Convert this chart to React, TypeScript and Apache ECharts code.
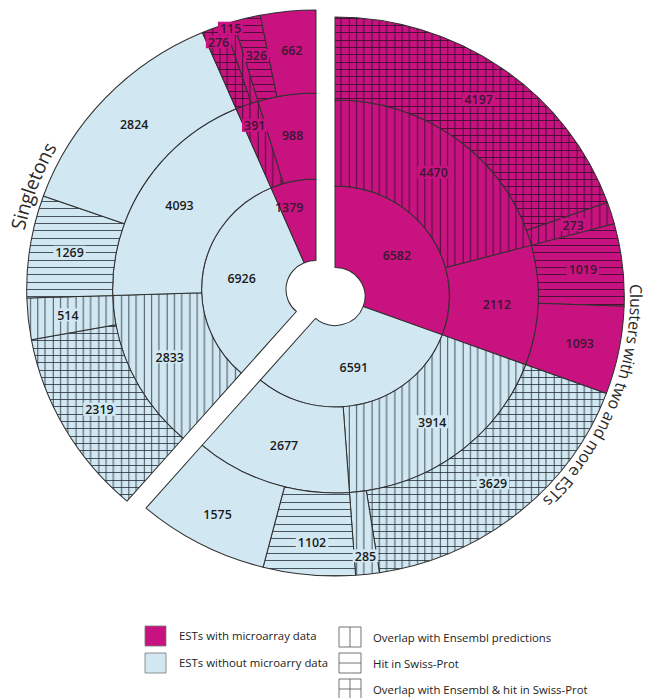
import React, { useEffect, useRef } from 'react';
import * as echarts from 'echarts';

// ---------- data ----------
const singletonInner = [6926, 1379];
const singletonInnerKind = ['none', 'micro'];
const singletonMiddle = [2833, 4093, 391, 988];
const singletonOuter = [2319, 514, 1269, 2824, 276, 115, 326, 662];

const clusterInner = [6582, 6591];
const clusterInnerKind = ['micro', 'none'];
const clusterMiddle = [4470, 2112, 3914, 2677];
const clusterOuter = [4197, 273, 1019, 1093, 3629, 285, 1102, 1575];

const middlePattern = ['ensembl', 'plain'];
const outerPattern = ['both', 'ensembl', 'swiss', 'plain'];

const groupTitles = ['Singletons', 'Clusters with two and more ESTs'];
const legendColorLabels = ['ESTs with microarray data', 'ESTs without microarry data'];
const legendPatternLabels = [
  'Overlap with Ensembl predictions',
  'Hit in Swiss-Prot',
  'Overlap with Ensembl & hit in Swiss-Prot',
];

// ---------- styles / geometry ----------
const MAGENTA = '#c8127f';
const BLUE = '#d1e8f3';
const LINE_MAG = 'rgba(55,15,45,0.85)';
const LINE_BLUE = 'rgba(35,45,55,0.8)';
const TEXT_MAG = '#3a1732';
const TEXT_BLUE = '#1a1a1a';
const FONT = '"Open Sans", "Noto Sans", sans-serif';

const SX = 1.035;
const OX = 325.5;
const leftCenter = [316.3, 289.5];
const rightCenter = [334.7, 296.5];
const R0 = 29;
const R1 = 110.5;
const R2 = 196.5;
const R3 = 279.5;

// radial / angular label nudges (px, deg)
const labelAdjust: Record<string, [number, number]> = {
  '276': [24, 0],
  '115': [33, 0],
  '391': [18, 0],
  '1379': [14, -6],
  '285': [20, 0],
  '1102': [6, 0],
  '1575': [4, 0],
};

const ix = (px: number) => OX + (px - OX) / SX;
const iw = (w: number) => w / SX;

function makePattern(bg: string, line: string, v: boolean, h: boolean) {
  const size = 22;
  const c = document.createElement('canvas');
  c.width = size;
  c.height = size;
  const ctx = c.getContext('2d')!;
  ctx.fillStyle = bg;
  ctx.fillRect(0, 0, size, size);
  ctx.fillStyle = line;
  [3, 10, 18].forEach((p) => {
    if (v) ctx.fillRect(p, 0, 1, size);
    if (h) ctx.fillRect(0, p, size, 1);
  });
  return { image: c, repeat: 'repeat', imageWidth: size, imageHeight: size };
}

function fillFor(kind: string, pattern: string, cache: Record<string, any>) {
  const key = kind + '-' + pattern;
  if (cache[key]) return cache[key];
  const bg = kind === 'micro' ? MAGENTA : BLUE;
  const line = kind === 'micro' ? LINE_MAG : LINE_BLUE;
  let f: any = bg;
  if (pattern === 'ensembl') f = makePattern(bg, line, true, false);
  else if (pattern === 'swiss') f = makePattern(bg, line, false, true);
  else if (pattern === 'both') f = makePattern(bg, line, true, true);
  cache[key] = f;
  return f;
}

function ring(
  values: number[],
  kinds: string[],
  patterns: string[],
  center: number[],
  rin: number,
  rout: number,
  fillerBefore: boolean,
  fillerValue: number,
  cache: Record<string, any>
) {
  const total = values.reduce((a, b) => a + b, 0) + fillerValue;
  let cum = fillerBefore ? fillerValue : 0;
  const rMid = (rin + rout) / 2;
  const data: any[] = values.map((v, i) => {
    const kind = kinds[i];
    const thMid = ((cum + v / 2) / total) * 2 * Math.PI;
    cum += v;
    const adj = labelAdjust[String(v)];
    let padding = [0, 0, 0, 0];
    if (adj) {
      const r2 = rMid + adj[0];
      const th2 = thMid + (adj[1] * Math.PI) / 180;
      const dx = r2 * Math.sin(th2) - rMid * Math.sin(thMid);
      const dy = -(r2 * Math.cos(th2) - rMid * Math.cos(thMid));
      padding = [dy > 0 ? 2 * dy : 0, dx < 0 ? -2 * dx : 0, dy < 0 ? -2 * dy : 0, dx > 0 ? 2 * dx : 0];
    }
    const bg = kind === 'micro' ? MAGENTA : BLUE;
    const patterned = patterns[i] !== 'plain';
    return {
      name: 'n' + v,
      value: v,
      itemStyle: { color: fillFor(kind, patterns[i], cache) },
      label: {
        padding,
        rich: {
          t: {
            backgroundColor: patterned ? bg : 'transparent',
            padding: [1, 2, 0, 2],
            color: kind === 'micro' ? TEXT_MAG : TEXT_BLUE,
            fontSize: 12,
            fontWeight: 600,
            fontFamily: FONT,
          },
        },
      },
    };
  });
  const filler = {
    name: 'filler',
    value: fillerValue,
    itemStyle: { color: 'rgba(0,0,0,0)', borderWidth: 0 },
    label: { show: false },
  };
  if (fillerBefore) data.unshift(filler);
  else data.push(filler);
  return {
    type: 'pie',
    center,
    radius: [rin, rout],
    startAngle: 90,
    clockwise: true,
    silent: true,
    avoidLabelOverlap: false,
    emphasis: { disabled: true },
    labelLine: { show: false },
    itemStyle: { borderColor: '#303030', borderWidth: 1 },
    label: {
      show: true,
      position: 'inside',
      formatter: (p: any) => `{t|${p.value}}`,
    },
    data,
  };
}

function curvedText(text: string, center: number[], r: number, thetaDeg: number, fontSize: number) {
  const ctx = document.createElement('canvas').getContext('2d')!;
  ctx.font = `${fontSize}px "Open Sans"`;
  const chars = Array.from(text);
  const widths = chars.map((c) => ctx.measureText(c).width);
  const total = widths.reduce((a, b) => a + b, 0);
  let t = (thetaDeg * Math.PI) / 180 - total / r / 2;
  const els: any[] = [];
  chars.forEach((c, i) => {
    const th = t + widths[i] / 2 / r;
    t += widths[i] / r;
    if (c === ' ') return;
    els.push({
      type: 'text',
      x: center[0] + r * Math.sin(th),
      y: center[1] - r * Math.cos(th),
      rotation: -th,
      silent: true,
      style: {
        text: c,
        fontSize,
        fontFamily: FONT,
        fill: '#2a2a2a',
        align: 'center',
        verticalAlign: 'middle',
        textAlign: 'center',
        textVerticalAlign: 'middle',
      },
    });
  });
  return els;
}

function legend() {
  const els: any[] = [];
  const textStyle = (t: string) => ({
    text: t,
    fontSize: 11,
    fontFamily: FONT,
    fill: '#222',
    verticalAlign: 'middle',
    textVerticalAlign: 'middle',
  });
  const colorFills = [MAGENTA, BLUE];
  const colorY = [626, 653];
  legendColorLabels.forEach((lab, i) => {
    els.push({
      type: 'rect',
      shape: { x: ix(145), y: colorY[i], width: iw(21), height: 20 },
      style: { fill: colorFills[i], stroke: '#7a7a7a', lineWidth: 0.8 },
      silent: true,
    });
    els.push({ type: 'text', x: ix(179), y: colorY[i] + 10, silent: true, style: textStyle(lab) });
  });
  const patY = [627, 653, 679];
  legendPatternLabels.forEach((lab, i) => {
    const x0 = ix(339);
    const w = iw(22);
    const y0 = patY[i];
    els.push({
      type: 'rect',
      shape: { x: x0, y: y0, width: w, height: 20 },
      style: { fill: '#fff', stroke: '#555', lineWidth: 0.8 },
      silent: true,
    });
    if (i === 0 || i === 2) {
      els.push({
        type: 'line',
        shape: { x1: x0 + w / 2, y1: y0, x2: x0 + w / 2, y2: y0 + 20 },
        style: { stroke: '#555', lineWidth: 0.8 },
        silent: true,
      });
    }
    if (i === 1 || i === 2) {
      els.push({
        type: 'line',
        shape: { x1: x0, y1: y0 + 10, x2: x0 + w, y2: y0 + 10 },
        style: { stroke: '#555', lineWidth: 0.8 },
        silent: true,
      });
    }
    els.push({ type: 'text', x: ix(373), y: y0 + 10.5, silent: true, style: textStyle(lab) });
  });
  return els;
}

function buildOption() {
  const cache: Record<string, any> = {};
  const sTotal = singletonInner.reduce((a, b) => a + b, 0);
  const cTotal = clusterInner.reduce((a, b) => a + b, 0);
  const sMidKinds = singletonMiddle.map((_, i) => singletonInnerKind[Math.floor(i / 2)]);
  const sOutKinds = singletonOuter.map((_, i) => singletonInnerKind[Math.floor(i / 4)]);
  const cMidKinds = clusterMiddle.map((_, i) => clusterInnerKind[Math.floor(i / 2)]);
  const cOutKinds = clusterOuter.map((_, i) => clusterInnerKind[Math.floor(i / 4)]);
  const midPats = singletonMiddle.map((_, i) => middlePattern[i % 2]);
  const outPats = singletonOuter.map((_, i) => outerPattern[i % 4]);
  const innerPats = ['plain', 'plain'];

  return {
    animation: false,
    backgroundColor: '#ffffff',
    series: [
      ring(singletonInner, singletonInnerKind, innerPats, leftCenter, R0, R1, true, cTotal, cache),
      ring(singletonMiddle, sMidKinds, midPats, leftCenter, R1, R2, true, cTotal, cache),
      ring(singletonOuter, sOutKinds, outPats, leftCenter, R2, R3, true, cTotal, cache),
      ring(clusterInner, clusterInnerKind, innerPats, rightCenter, R0, R1, false, sTotal, cache),
      ring(clusterMiddle, cMidKinds, midPats, rightCenter, R1, R2, false, sTotal, cache),
      ring(clusterOuter, cOutKinds, outPats, rightCenter, R2, R3, false, sTotal, cache),
    ],
    graphic: {
      elements: [
        ...curvedText(groupTitles[0], leftCenter, 295, 290.7, 19),
        ...curvedText(groupTitles[1], rightCenter, 291, 111.5, 16),
        ...legend(),
      ],
    },
  };
}

export default function App() {
  const ref = useRef<HTMLDivElement>(null);
  useEffect(() => {
    if (!ref.current) return;
    const chart = echarts.init(ref.current, null, { renderer: 'svg' });
    chart.setOption(buildOption() as any);
    return () => chart.dispose();
  }, []);
  return (
    <div
      style={{
        position: 'fixed',
        left: 0,
        top: 0,
        width: 647,
        height: 698,
        overflow: 'hidden',
        background: '#fff',
      }}
    >
      <div
        ref={ref}
        style={{
          width: 647,
          height: 698,
          transform: `scaleX(${SX})`,
          transformOrigin: `${OX}px 0px`,
        }}
      />
    </div>
  );
}
